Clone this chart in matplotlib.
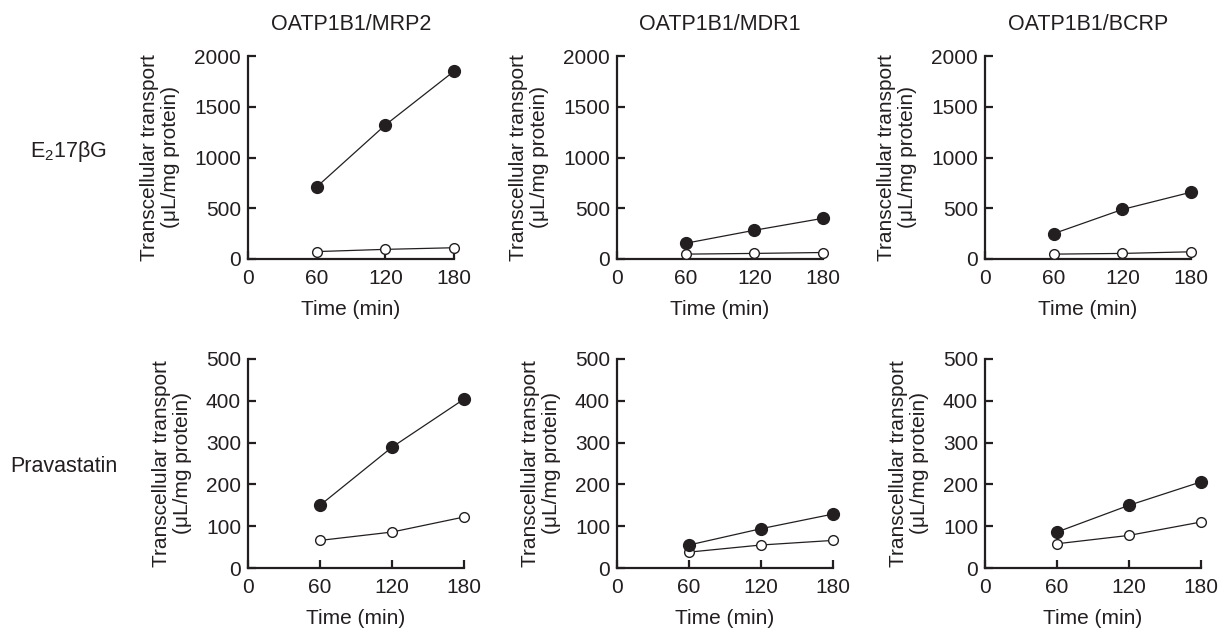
import matplotlib
matplotlib.use("Agg")
import matplotlib.pyplot as plt

plt.rcParams['font.family'] = ['Liberation Sans', 'DejaVu Sans']
plt.rcParams['mathtext.default'] = 'regular'

# time points (min)
time = [60, 120, 180]

transporters = ["OATP1B1/MRP2", "OATP1B1/MDR1", "OATP1B1/BCRP"]
substrates = ["E$_2$17\u03b2G", "Pravastatin"]

# E217bG, filled = double transfected, open = control
e2_filled = [
    [710, 1320, 1850],
    [155, 283, 401],
    [250, 488, 658],
]
e2_open = [
    [73, 95, 111],
    [48, 55, 64],
    [48, 55, 71],
]

# pravastatin
prav_filled = [
    [150, 289, 404],
    [55, 94, 129],
    [86, 150, 206],
]
prav_open = [
    [66, 86, 122],
    [38, 55, 66],
    [58, 78, 110],
]

row_ymax = [2000, 500]
row_yticks = [[0, 500, 1000, 1500, 2000], [0, 100, 200, 300, 400, 500]]
xticks = [0, 60, 120, 180]

ink = '#231f20'
fig = plt.figure(figsize=(12.24, 6.32), dpi=100)

lefts = [248, 617, 985]
rows = [
    dict(bottom=1 - 259 / 632, height=203 / 632, width=206 / 1224,
         filled=e2_filled, open=e2_open),
    dict(bottom=1 - 568 / 632, height=209 / 632, width=216 / 1224,
         filled=prav_filled, open=prav_open),
]

for r, row in enumerate(rows):
    for c in range(3):
        ax = fig.add_axes([lefts[c] / 1224, row['bottom'], row['width'], row['height']])
        ax.plot(time, row['open'][c], '-', color=ink, lw=0.9, marker='o',
                ms=7, mfc='white', mec=ink, mew=1.0, clip_on=False, zorder=3)
        ax.plot(time, row['filled'][c], '-', color=ink, lw=0.9, marker='o',
                ms=8.5, mfc=ink, mec=ink, clip_on=False, zorder=4)
        ax.set_xlim(0, 180)
        ax.set_ylim(0, row_ymax[r])
        ax.set_xticks(xticks)
        ax.set_yticks(row_yticks[r])
        for s in ['top', 'right']:
            ax.spines[s].set_visible(False)
        for s in ['left', 'bottom']:
            ax.spines[s].set_linewidth(1.6)
            ax.spines[s].set_color(ink)
        ax.tick_params(direction='in', length=6, width=1.6, color=ink,
                       labelsize=15, labelcolor=ink, pad=5)
        ax.tick_params(axis='x', pad=7)
        ax.set_xlabel("Time (min)", fontsize=15, color=ink, labelpad=9)
        ax.set_ylabel("Transcellular transport\n(\u03bcL/mg protein)", fontsize=15,
                      color=ink, labelpad=10, linespacing=1.15)
        if r == 0:
            ax.set_title(transporters[c], fontsize=15.5, color=ink, pad=19)

fig.text(68 / 1224, 1 - 152 / 632, substrates[0], fontsize=15.5, color=ink,
         ha='center', va='center')
fig.text(64 / 1224, 1 - 467 / 632, substrates[1], fontsize=15.5, color=ink,
         ha='center', va='center')

fig.savefig("out.png", dpi=100)
